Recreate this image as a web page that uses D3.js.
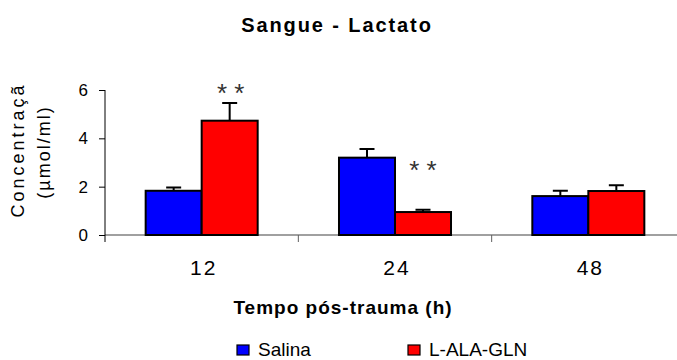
<!DOCTYPE html>
<html>
<head>
<meta charset="utf-8">
<style>
  body { margin: 0; background: #fff; }
  text { font-family: "Liberation Sans", Arial, sans-serif; }
</style>
<script src="https://d3js.org/d3.v7.min.js"></script>
</head>
<body>
<div id="chart"></div>
<script>
// data
var categories = ["12", "24", "48"];
var series = ["Salina", "L-ALA-GLN"];
var salina = [1.83, 3.2, 1.61];
var salinaErr = [0.14, 0.36, 0.22];
var alaGln = [4.73, 0.95, 1.82];
var alaGlnErr = [0.73, 0.1, 0.24];
var yTicks = [0, 2, 4, 6];
var colors = ["#0000ff", "#ff0000"];

var W = 677, H = 360;
var svg = d3.select("#chart").append("svg")
    .attr("width", W).attr("height", H);

var x0 = d3.scaleBand().domain(categories).range([105, 685]);
var x1 = d3.scaleBand().domain(series).range([0, x0.bandwidth()]).paddingOuter(0.726);
var y = d3.scaleLinear().domain([0, 6]).range([235, 90]);

var rows = categories.map(function(c, i) {
    return [
        { cat: c, s: series[0], v: salina[i], e: salinaErr[i] },
        { cat: c, s: series[1], v: alaGln[i], e: alaGlnErr[i] }
    ];
});

// x axis baseline (grey)
svg.append("line")
    .attr("x1", 105).attr("x2", W).attr("y1", y(0)).attr("y2", y(0))
    .attr("stroke", "#808080").attr("stroke-width", 1.5);
categories.slice(1).forEach(function(c) {
    svg.append("line")
        .attr("x1", x0(c)).attr("x2", x0(c))
        .attr("y1", y(0)).attr("y2", y(0) + 7)
        .attr("stroke", "#606060");
});

// y axis
var yAxis = d3.axisLeft(y).tickValues(yTicks).tickSize(6).tickPadding(11).tickFormat(d3.format("d"));
var yg = svg.append("g").attr("transform", "translate(105,0)").call(yAxis);
yg.select(".domain").remove();
yg.append("line").attr("x1", 0).attr("x2", 0).attr("y1", y(6)).attr("y2", y(0) + 7)
    .attr("stroke", "#000");
yg.selectAll(".tick line").attr("stroke", "#000");
yg.selectAll(".tick text").attr("font-size", 17).attr("fill", "#000")
    .style("font-family", "'Liberation Sans', Arial, sans-serif");

// bars
var g = svg.selectAll(".grp").data(rows).enter().append("g")
    .attr("transform", function(d, i) { return "translate(" + x0(categories[i]) + ",0)"; });

g.selectAll(".err").data(function(d) { return d; }).enter().append("path")
    .attr("d", function(d) {
        var cx = x1(d.s) + x1.bandwidth() / 2;
        return "M" + cx + "," + y(d.v) + "V" + y(d.v + d.e) +
            "M" + (cx - 7.5) + "," + y(d.v + d.e) + "H" + (cx + 7.5);
    })
    .attr("stroke", "#000").attr("stroke-width", 2).attr("fill", "none");

g.selectAll("rect").data(function(d) { return d; }).enter().append("rect")
    .attr("x", function(d) { return x1(d.s); })
    .attr("width", x1.bandwidth())
    .attr("y", function(d) { return y(d.v); })
    .attr("height", function(d) { return y(0) - y(d.v); })
    .attr("fill", function(d, i) { return colors[i]; })
    .attr("stroke", "#000").attr("stroke-width", 2);

// significance marks
function redCenter(c) { return x0(c) + x1(series[1]) + x1.bandwidth() / 2; }
svg.append("text").attr("x", redCenter("12") + 1).attr("y", 102)
    .attr("text-anchor", "middle").attr("font-size", 26)
    .attr("fill", "#333").text("* *");
svg.append("text").attr("x", redCenter("24")).attr("y", 179)
    .attr("text-anchor", "middle").attr("font-size", 26)
    .attr("fill", "#333").text("* *");

// category labels
svg.selectAll(".cat").data(categories).enter().append("text")
    .attr("x", function(d) { return x0(d) + x0.bandwidth() / 2 + 2; })
    .attr("y", 275)
    .attr("text-anchor", "middle").attr("font-size", 21).attr("letter-spacing", 2)
    .text(function(d) { return d; });

// titles
svg.append("text").attr("x", 337).attr("y", 32).attr("text-anchor", "middle")
    .attr("font-size", 20).attr("font-weight", "bold").attr("letter-spacing", 1.9)
    .text("Sangue - Lactato");
svg.append("text").attr("x", 343).attr("y", 314).attr("text-anchor", "middle")
    .attr("font-size", 19).attr("font-weight", "bold").attr("letter-spacing", 1)
    .text("Tempo pós-trauma (h)");

// y label
svg.append("text").attr("transform", "translate(24,150) rotate(-90)")
    .attr("text-anchor", "middle").attr("font-size", 18).attr("letter-spacing", 3)
    .text("Concentraçã");
svg.append("text").attr("transform", "translate(50,152) rotate(-90)")
    .attr("text-anchor", "middle").attr("font-size", 18).attr("letter-spacing", 2)
    .text("(µmol/ml)");

// legend
var legX = [237, 408];
series.forEach(function(s, i) {
    svg.append("rect").attr("x", legX[i]).attr("y", 345).attr("width", 12).attr("height", 10)
        .attr("fill", colors[i]).attr("stroke", "#000").attr("stroke-width", 1.2);
    svg.append("text").attr("x", legX[i] + 21).attr("y", 356).attr("font-size", 19).text(s);
});
</script>
</body>
</html>
